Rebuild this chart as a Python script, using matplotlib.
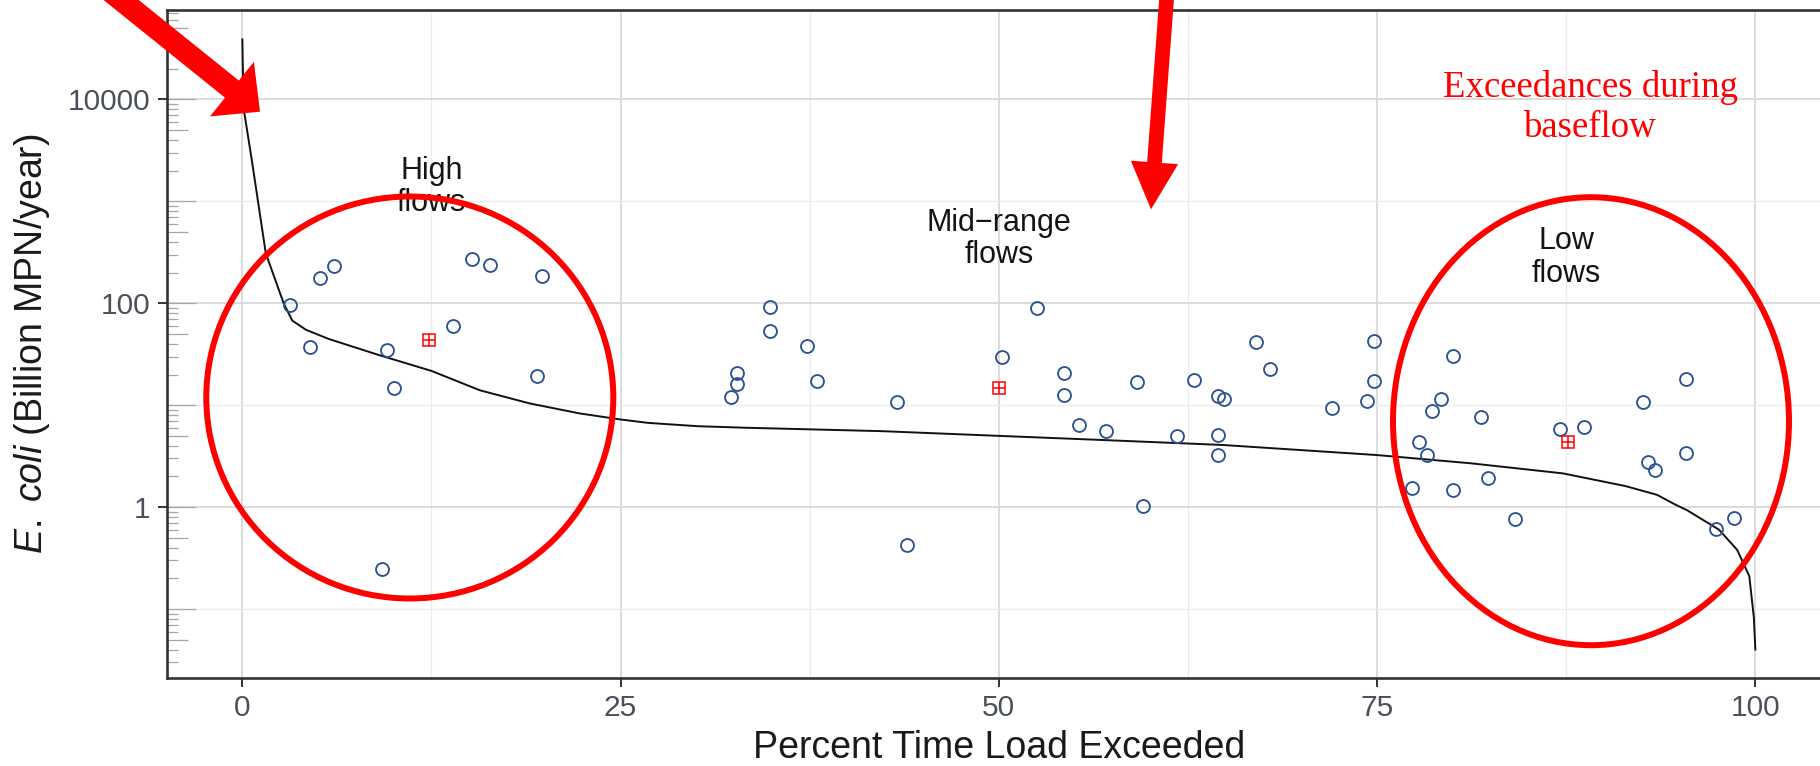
import numpy as np
import matplotlib
matplotlib.use("Agg")
import matplotlib.pyplot as plt
from matplotlib.patches import Ellipse, FancyArrow
from matplotlib.transforms import IdentityTransform

plt.rcParams['font.family'] = ['Liberation Sans', 'DejaVu Sans']
plt.rcParams['mathtext.fontset'] = 'custom'
plt.rcParams['mathtext.rm'] = 'Liberation Sans'
plt.rcParams['mathtext.it'] = 'Liberation Sans:italic'

# ---- data ----
# load duration curve
curve_x = [0, 0.07, 0.13, 0.62, 1.55, 2.73, 3.3, 4.2, 5.7, 9.07, 12.5, 15.7, 19.0, 22.3,
           25.0, 26.8, 30.1, 33.4, 37.8, 42.3, 50, 56.6, 64.8, 75, 81.2, 87.3, 91.4, 93.5,
           94.7, 95.5, 97.6, 98.8, 99.6, 99.9, 100]
curve_y = [38900, 10000, 7410, 2570, 309, 100, 67.6, 55, 44.7, 30.9, 21.7, 14.0, 10.4, 8.30,
           7.24, 6.71, 6.22, 6.0, 5.78, 5.56, 5.0, 4.57, 4.07, 3.24, 2.69, 2.14, 1.61, 1.32,
           1.06, 0.93, 0.60, 0.38, 0.21, 0.083, 0.040]

# observed loads
obs_x = [3.18, 4.45, 5.16, 6.08, 9.54, 10.0, 9.24, 13.9, 15.2, 16.4, 19.8, 19.5,
         32.3, 32.7, 32.7, 34.9, 34.9, 37.3, 38.0, 43.3, 43.9, 50.2, 52.5, 54.3, 54.3,
         55.3, 57.1, 59.1, 59.5, 61.8, 62.9, 64.5, 64.9, 64.5, 64.5, 67.0, 67.9, 72.0,
         74.3, 74.8, 74.8,
         77.3, 77.8, 78.3, 78.6, 79.2, 80.0, 80.0, 81.9, 82.3, 84.1, 87.1, 88.7, 92.6,
         92.9, 93.4, 95.4, 95.4, 97.4, 98.6]
obs_y = [95.5, 37.2, 178, 234, 34.7, 14.8, 0.245, 60.3, 275, 240, 186, 19.5,
         12.0, 20.9, 16.2, 91.2, 53.7, 38.0, 17.4, 10.7, 0.427, 29.5, 89.1, 20.9, 12.6,
         6.46, 5.62, 17.0, 1.02, 5.01, 17.8, 12.3, 11.5, 5.13, 3.24, 41.7, 22.4, 9.33,
         11.0, 42.7, 17.4,
         1.55, 4.37, 3.24, 8.71, 11.5, 30.2, 1.48, 7.59, 1.95, 0.759, 5.89, 6.17, 10.7,
         2.75, 2.29, 18.2, 3.39, 0.603, 0.776]

# geometric means per flow regime
mean_x = [12.35, 50.0, 87.6]
mean_y = [43.7, 14.8, 4.37]

x_ticks = [0, 25, 50, 75, 100]
x_tick_labels = ["0", "25", "50", "75", "100"]
y_ticks = [1, 100, 10000]
y_tick_labels = ["1", "100", "10000"]

regime_x = [12.5, 50, 87.5]
regime_y = [10**3.14, 10**2.63, 10**2.45]
regime_labels = ["High\nflows", "Mid\u2212range\nflows", "Low\nflows"]

# ---- figure ----
W, H = 1820, 766
fig = plt.figure(figsize=(W / 100, H / 100), dpi=100)
ax_l, ax_r, ax_t, ax_b = 166.7, 1831.0, 10.0, 678.3
ax = fig.add_axes([ax_l / W, 1 - ax_b / H, (ax_r - ax_l) / W, (ax_b - ax_t) / H])

ax.set_yscale('log')
ax.set_xlim(-5, 105)
ax.set_ylim(10**-1.68, 10**4.878)

ax.set_xticks(x_ticks)
ax.set_xticklabels(x_tick_labels)
ax.set_xticks([12.5, 37.5, 62.5, 87.5], minor=True)
ax.set_yticks(y_ticks)
ax.set_yticklabels(y_tick_labels)
ax.set_yticks([0.1, 10, 1000], minor=True)
ax.yaxis.set_minor_formatter(matplotlib.ticker.NullFormatter())

ax.grid(which='major', color='#d6d6d6', linewidth=1.2)
ax.grid(which='minor', color='#ebebeb', linewidth=0.9)
ax.set_axisbelow(True)

ax.tick_params(which='major', direction='out', length=6.5, width=1.4, color='#333333',
               labelsize=21.5, labelcolor='#4a4f5c')
ax.tick_params(axis='x', which='major', pad=4.8)
ax.tick_params(axis='y', which='major', pad=5.5)
ax.tick_params(which='minor', length=0)
for s in ax.spines.values():
    s.set_color('#333333')
    s.set_linewidth(1.9)

# inner log ticks (annotation_logticks style)
axw = ax_r - ax_l
ytr = ax.get_yaxis_transform()
for e in range(-2, 5):
    for k in range(1, 10):
        v = k * 10.0**e
        if v < 10**-1.68 or v > 10**4.878:
            continue
        L = 29 if k == 1 else (21 if k == 5 else 11)
        ax.plot([0, L / axw], [v, v], transform=ytr, color='#a6a6a6', lw=0.9,
                solid_capstyle='butt', zorder=1.5, clip_on=False)

# curve and points
ax.plot(curve_x, curve_y, color='#111111', lw=1.4, zorder=3)
ax.plot(obs_x, obs_y, linestyle='none', marker='o', markersize=9.3, markerfacecolor='none',
        markeredgecolor='#2b5390', markeredgewidth=1.35, zorder=4)
ax.plot(mean_x, mean_y, linestyle='none', marker='s', markersize=9, markerfacecolor='none',
        markeredgecolor='#ff0000', markeredgewidth=1.1, zorder=5)
ax.plot(mean_x, mean_y, linestyle='none', marker='+', markersize=9,
        markeredgecolor='#ff0000', markeredgewidth=1.1, zorder=5)

for xx, yy, t in zip(regime_x, regime_y, regime_labels):
    ax.text(xx, yy, t, ha='center', va='center', fontsize=22, linespacing=1.1,
            color='#141414', zorder=6)

ax.set_xlabel("Percent Time Load Exceeded", fontsize=27, color='#1a1a1a')
ax.set_ylabel(r"$\it{E.}$ $\it{coli}$ (Billion MPN/year)", fontsize=27, color='#1a1a1a')
ax.xaxis.label.set_va('center')
ax.yaxis.label.set_va('center')
ax.xaxis.set_label_coords((998.9 - ax_l) / axw, (ax_b - 747.5) / (ax_b - ax_t))
ax.yaxis.set_label_coords((32.5 - ax_l) / axw, 0.5)

# ---- red annotations (figure pixel coordinates, y from top) ----
def px(x, y):
    return x, H - y

idt = IdentityTransform()
for (cx, cy, w, h) in [(409.8, 397.5, 407, 402), (1591.0, 421.2, 396, 448)]:
    fig.add_artist(Ellipse(px(cx, cy), w, h, fill=False, edgecolor='#ff0000',
                           linewidth=4.3, transform=idt, zorder=10))

def fat_arrow(start, tip, shaft, hw, hl):
    x0, y0 = px(*start)
    x1, y1 = px(*tip)
    fig.add_artist(FancyArrow(x0, y0, x1 - x0, y1 - y0, width=shaft, head_width=hw,
                              head_length=hl, length_includes_head=True,
                              color='#ff0000', linewidth=0, transform=idt, zorder=11))

fat_arrow((95, -21), (260, 111.7), 22, 70, 36)
fat_arrow((1168, -20), (1151, 209.3), 14.7, 47.4, 47)

fig.text(1590.8 / W, 1 - 107.5 / H, "Exceedances during\nbaseflow", ha='center', va='center',
         fontsize=26.5, family=['Liberation Serif', 'DejaVu Serif'], color='#ff0000',
         linespacing=1.24)

fig.savefig("out.png", dpi=100)
